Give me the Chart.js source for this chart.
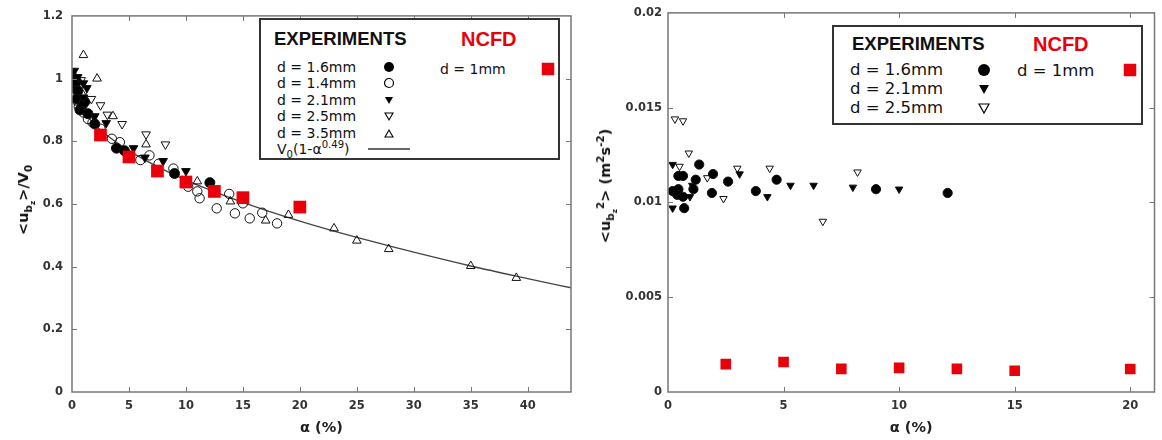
<!DOCTYPE html>
<html>
<head>
<meta charset="utf-8">
<script src="https://cdn.jsdelivr.net/npm/chart.js@4.4.1/dist/chart.umd.min.js"></script>
<style>
  body { margin: 0; width: 1162px; height: 440px; position: relative; background: #fff; overflow: hidden; font-family: 'DejaVu Sans', sans-serif; color: #111; }
  canvas { position: absolute; top: 0; }
  .ytitle { position: absolute; transform: translate(-50%, -50%) rotate(-90deg); white-space: nowrap; font-weight: bold; font-size: 14.5px; color: #111; }
  .ytitle sub, .ytitle sup, .lg sub, .lg sup { font-size: 72%; line-height: 0; }
  .box { position: absolute; border: 2px solid #333; box-sizing: border-box; background: #fff; }
  .lg { position: absolute; transform: translateY(-50%); white-space: nowrap; line-height: 1; }
  .head { font-family: 'Liberation Sans', Arial, sans-serif; font-weight: bold; font-size: 18.5px; }
  .red { color: #e8000b; font-size: 20px; }
  .mk { position: absolute; transform: translate(-50%, -50%); }
</style>
</head>
<body>
<canvas id="left" width="580" height="440" style="left:0"></canvas>
<canvas id="right" width="582" height="440" style="left:580px"></canvas>

<div class="ytitle" style="left:24px; top:200px">&lt;u<sub>b<sub>z</sub></sub>&gt;/V<sub>0</sub></div>
<div class="ytitle" style="left:606px; top:186px">&lt;u<sub>b<sub>z</sub></sub><sup>2</sup>&gt; (m<sup>2</sup>s<sup>-2</sup>)</div>

<div class="box" style="left:259px; top:18px; width:301px; height:142px">
  <div class="lg head" style="left:13px; top:19px">EXPERIMENTS</div>
  <div class="lg head red" style="left:200px; top:19px">NCFD</div>
  <div class="lg" style="left:16px; top:47px; font-size:14px">d = 1.6mm</div>
  <div class="lg" style="left:16px; top:63px; font-size:14px">d = 1.4mm</div>
  <div class="lg" style="left:16px; top:80px; font-size:14px">d = 2.1mm</div>
  <div class="lg" style="left:16px; top:96px; font-size:14px">d = 2.5mm</div>
  <div class="lg" style="left:16px; top:113px; font-size:14px">d = 3.5mm</div>
  <div class="lg" style="left:16px; top:129px; font-size:14px">V<sub>0</sub>(1-α<sup>0.49</sup>)</div>
  <div class="lg" style="left:179px; top:49px; font-size:14px">d = 1mm</div>
  <svg class="mk" style="left:128px; top:47px" width="12" height="12"><circle cx="6" cy="6" r="5" fill="#000"/></svg>
  <svg class="mk" style="left:128px; top:63px" width="12" height="12"><circle cx="6" cy="6" r="4.5" fill="none" stroke="#000" stroke-width="1.2"/></svg>
  <svg class="mk" style="left:128px; top:80px" width="12" height="12"><polygon points="2,3 10,3 6,10" fill="#000"/></svg>
  <svg class="mk" style="left:128px; top:96px" width="12" height="12"><polygon points="2,3 10,3 6,10" fill="none" stroke="#000" stroke-width="1.1"/></svg>
  <svg class="mk" style="left:128px; top:113px" width="12" height="12"><polygon points="2,10 10,10 6,3" fill="none" stroke="#000" stroke-width="1.1"/></svg>
  <svg class="mk" style="left:128px; top:129px" width="42" height="4"><line x1="0" y1="2" x2="42" y2="2" stroke="#333" stroke-width="1.4"/></svg>
  <svg class="mk" style="left:287px; top:49px" width="13" height="13"><rect x="0" y="0" width="13" height="13" fill="#e8000b"/></svg>
</div>

<div class="box" style="left:832px; top:25px; width:311px; height:100px">
  <div class="lg head" style="left:18px; top:17px">EXPERIMENTS</div>
  <div class="lg head red" style="left:199px; top:17px">NCFD</div>
  <div class="lg" style="left:16px; top:43px; font-size:16.5px">d = 1.6mm</div>
  <div class="lg" style="left:16px; top:62px; font-size:16.5px">d = 2.1mm</div>
  <div class="lg" style="left:16px; top:81px; font-size:16.5px">d = 2.5mm</div>
  <div class="lg" style="left:183px; top:44px; font-size:16.5px">d = 1mm</div>
  <svg class="mk" style="left:150px; top:43px" width="14" height="14"><circle cx="7" cy="7" r="6" fill="#000"/></svg>
  <svg class="mk" style="left:150px; top:62px" width="14" height="14"><polygon points="2,3 12,3 7,12" fill="#000"/></svg>
  <svg class="mk" style="left:150px; top:81px" width="14" height="14"><polygon points="2,3 12,3 7,12" fill="none" stroke="#000" stroke-width="1.2"/></svg>
  <svg class="mk" style="left:296px; top:43px" width="13" height="13"><rect x="0" y="0" width="13" height="13" fill="#e8000b"/></svg>
</div>

<script>
// ---------- left panel: <u_bz>/V0 against alpha (%) ----------
const leftXTicks = [0, 5, 10, 15, 20, 25, 30, 35, 40];
const leftYTicks = [0, 0.2, 0.4, 0.6, 0.8, 1, 1.2];

// [alpha %, value]
const left16 = [[0.05, 1.005], [0.3, 0.97], [0.4, 0.99], [0.5, 0.96], [0.4, 0.935], [0.7, 0.9], [0.9, 0.915], [1.1, 0.925],
  [1.4, 0.888], [2.0, 0.855], [3.9, 0.778], [4.6, 0.77], [9.0, 0.697], [12.1, 0.668]];
const left14 = [[0.25, 0.97], [0.4, 0.93], [0.6, 0.91], [1.0, 0.892], [1.4, 0.871], [1.8, 0.86], [2.5, 0.84], [3.5, 0.808],
  [4.2, 0.797], [6.0, 0.74], [6.8, 0.755], [7.6, 0.728], [8.9, 0.713], [10.2, 0.655], [11.0, 0.64], [11.2, 0.618],
  [12.7, 0.586], [13.8, 0.632], [14.3, 0.57], [15.0, 0.602], [15.6, 0.554], [16.7, 0.572], [18.0, 0.538]];
const left21 = [[0.2, 1.025], [0.5, 1.005], [1.0, 0.985], [1.3, 0.97], [1.0, 0.94], [2.0, 0.88], [3.0, 0.858],
  [5.4, 0.778], [6.4, 0.748], [8.0, 0.737], [10.0, 0.705]];
const left25 = [[0.8, 0.995], [1.2, 0.965], [1.7, 0.935], [2.5, 0.915], [3.1, 0.885], [4.4, 0.855], [6.5, 0.822], [8.2, 0.79]];
const left35 = [[1.0, 1.075], [2.2, 1.0], [3.6, 0.88], [6.5, 0.79], [11.0, 0.672], [13.9, 0.608], [17.0, 0.547],
  [19.0, 0.565], [23.0, 0.522], [25.0, 0.483], [27.8, 0.456], [35.0, 0.402], [39.0, 0.364]];
const leftNcfd = [[2.5, 0.82], [5, 0.75], [7.5, 0.705], [10, 0.67], [12.5, 0.64], [15, 0.62], [20, 0.59]];

// fitted curve V0(1-alpha^0.49)
const fitAlpha = [0, 0.5, 1, 2, 3, 5, 7.5, 10, 15, 20, 25, 30, 35, 40, 44];
const fitValue = [1.0, 0.925, 0.895, 0.853, 0.821, 0.77, 0.719, 0.676, 0.605, 0.545, 0.493, 0.446, 0.402, 0.362, 0.331];

// ---------- right panel: <u_bz^2> against alpha (%) ----------
const rightXTicks = [0, 5, 10, 15, 20];
const rightYTicks = [0, 0.005, 0.01, 0.015, 0.02];

const right16 = [[0.2, 0.0106], [0.45, 0.0114], [0.65, 0.0114], [0.45, 0.0107], [0.4, 0.0104], [0.65, 0.0103],
  [0.7, 0.0097], [1.1, 0.0107], [1.2, 0.0112], [1.35, 0.0120], [1.95, 0.0115], [1.9, 0.0105], [2.6, 0.0111],
  [3.8, 0.0106], [4.7, 0.0112], [9.0, 0.0107], [12.1, 0.0105]];
const right21 = [[0.2, 0.0120], [0.2, 0.0097], [0.95, 0.0103], [1.05, 0.0109], [1.2, 0.0112], [3.1, 0.0115],
  [4.3, 0.0103], [5.3, 0.0109], [6.3, 0.0109], [8.0, 0.0108], [10.0, 0.0107]];
const right25 = [[0.3, 0.0144], [0.65, 0.0143], [0.9, 0.0126], [0.5, 0.0119], [1.7, 0.0113], [2.4, 0.0102],
  [3.0, 0.0118], [4.4, 0.0118], [6.7, 0.0090], [8.2, 0.0116]];
const rightNcfd = [[2.5, 0.00147], [5, 0.00158], [7.5, 0.00122], [10, 0.00127], [12.5, 0.00122], [15, 0.00112], [20, 0.00121]];

const RED = '#e8000b';
const toXY = arr => arr.map(([x, y]) => ({ x, y }));

function markers(label, pts, kind, r, order) {
  const filled = kind === 'dot' || kind === 'down';
  return {
    label, data: toXY(pts), order,
    pointStyle: kind === 'dot' || kind === 'ring' ? 'circle' : 'triangle',
    rotation: kind === 'down' || kind === 'downOpen' ? 180 : 0,
    pointRadius: r,
    backgroundColor: filled ? '#000' : 'rgba(0,0,0,0)',
    borderColor: '#111',
    borderWidth: 1
  };
}

function ncfd(pts, r) {
  return { label: 'NCFD d = 1mm', data: toXY(pts), order: 0, pointStyle: 'rect', pointRadius: r,
    backgroundColor: RED, borderColor: RED, borderWidth: 0 };
}

// box and inward gnuplot-style ticks on all four sides
const frame = {
  id: 'frame',
  afterDatasetsDraw(chart) {
    const { ctx, chartArea: a, scales: { x, y } } = chart;
    const tl = 5;
    ctx.save();
    ctx.strokeStyle = '#777';
    ctx.lineWidth = 1;
    ctx.beginPath();
    x.ticks.forEach(t => {
      const px = Math.round(x.getPixelForValue(t.value)) + 0.5;
      if (px <= a.left + 1 || px >= a.right - 1) return;
      ctx.moveTo(px, a.bottom); ctx.lineTo(px, a.bottom - tl);
      ctx.moveTo(px, a.top); ctx.lineTo(px, a.top + tl);
    });
    y.ticks.forEach(t => {
      const py = Math.round(y.getPixelForValue(t.value)) + 0.5;
      if (py <= a.top + 1 || py >= a.bottom - 1) return;
      ctx.moveTo(a.left, py); ctx.lineTo(a.left + tl, py);
      ctx.moveTo(a.right, py); ctx.lineTo(a.right - tl, py);
    });
    ctx.stroke();
    ctx.lineWidth = 1.5;
    ctx.strokeRect(a.left, a.top, a.right - a.left, a.bottom - a.top);
    ctx.restore();
  }
};

const tickFont = { family: 'DejaVu Sans', size: 11.5, weight: 'bold' };

function makeOptions(xMax, xTicks, yMax, yTicks, yWidth, padRight, padTop, yPad) {
  return {
    responsive: false,
    animation: false,
    layout: { padding: { left: 0, right: padRight, top: padTop, bottom: 0 } },
    plugins: { legend: { display: false }, tooltip: { enabled: false } },
    scales: {
      x: {
        type: 'linear', min: 0, max: xMax,
        grid: { display: false, drawTicks: false },
        border: { display: false },
        afterBuildTicks: s => { s.ticks = xTicks.map(v => ({ value: v })); },
        afterFit: s => { s.height = 48; },
        ticks: { padding: 7, color: '#333', font: tickFont, callback: v => String(v), maxRotation: 0 },
        title: { display: true, text: 'α (%)', color: '#222', font: { family: 'DejaVu Sans', size: 14.5, weight: 'bold' }, padding: { top: 0, bottom: 3 } }
      },
      y: {
        type: 'linear', min: 0, max: yMax,
        grid: { display: false, drawTicks: false },
        border: { display: false },
        afterBuildTicks: s => { s.ticks = yTicks.map(v => ({ value: v })); },
        afterFit: s => { s.width = yWidth; },
        ticks: { padding: yPad, color: '#333', font: tickFont, callback: v => String(v) }
      }
    }
  };
}

new Chart(document.getElementById('left'), {
  type: 'scatter',
  data: {
    datasets: [
      ncfd(leftNcfd, 9),
      markers('d = 1.6mm', left16, 'dot', 5, 2),
      markers('d = 1.4mm', left14, 'ring', 4.7, 3),
      markers('d = 2.1mm', left21, 'down', 5, 1),
      markers('d = 2.5mm', left25, 'downOpen', 5, 4),
      markers('d = 3.5mm', left35, 'up', 5, 5),
      { label: 'V0(1-α^0.49)', data: fitAlpha.map((a, i) => ({ x: a, y: fitValue[i] })), order: 10,
        showLine: true, pointRadius: 0, borderColor: '#444', borderWidth: 1.3, cubicInterpolationMode: 'monotone' }
    ]
  },
  options: makeOptions(43.8, leftXTicks, 1.2, leftYTicks, 72, 7, 13, 9),
  plugins: [frame]
});

new Chart(document.getElementById('right'), {
  type: 'scatter',
  data: {
    datasets: [
      ncfd(rightNcfd, 7.5),
      markers('d = 1.6mm', right16, 'dot', 4.6, 1),
      markers('d = 2.1mm', right21, 'down', 4.3, 2),
      markers('d = 2.5mm', right25, 'downOpen', 4.3, 3)
    ]
  },
  options: makeOptions(21.05, rightXTicks, 0.02, rightYTicks, 88, 7, 12, 6),
  plugins: [frame]
});
</script>
</body>
</html>
